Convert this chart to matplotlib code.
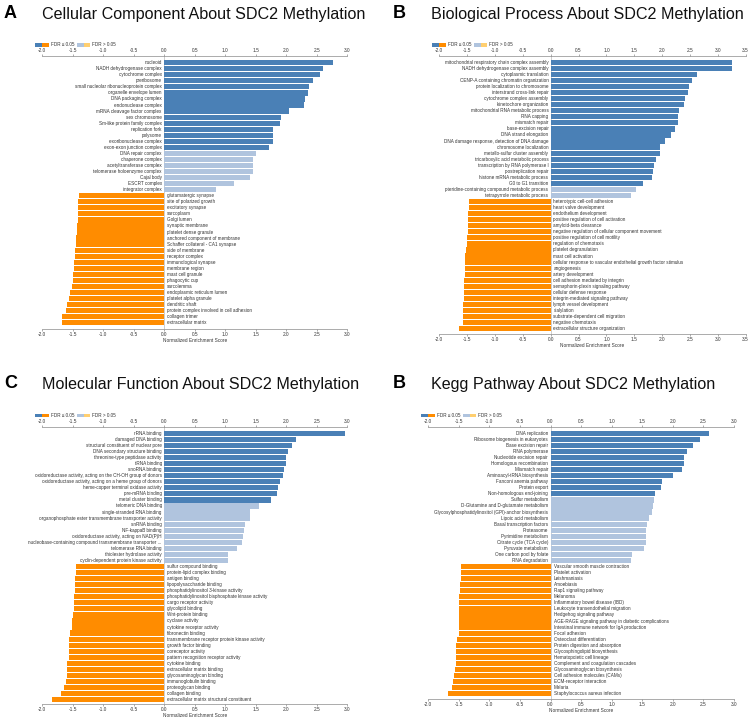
import matplotlib
matplotlib.use("Agg")
import matplotlib.pyplot as plt
from matplotlib.patches import Rectangle
import numpy as np

# ---------------- data ----------------
# Panel A: Cellular Component
a_sig_terms = ["nucleoid", "NADH dehydrogenase complex", "cytochrome complex", "preribosome",
               "small nucleolar ribonucleoprotein complex", "organelle envelope lumen",
               "DNA packaging complex", "endonuclease complex", "mRNA cleavage factor complex",
               "sex chromosome", "Sm-like protein family complex", "replication fork", "polysome",
               "exoribonuclease complex", "exon-exon junction complex"]
a_sig_nes = [2.77, 2.60, 2.56, 2.43, 2.38, 2.35, 2.31, 2.29, 2.05, 1.91, 1.89, 1.79, 1.79, 1.78, 1.71]
a_ns_terms = ["DNA repair complex", "chaperone complex", "acetyltransferase complex",
              "telomerase holoenzyme complex", "Cajal body", "ESCRT complex", "integrator complex"]
a_ns_nes = [1.51, 1.46, 1.45, 1.45, 1.40, 1.15, 0.84]
a_neg_terms = ["glutamatergic synapse", "site of polarized growth", "excitatory synapse", "sarcoplasm",
               "Golgi lumen", "synaptic membrane", "platelet dense granule",
               "anchored component of membrane", "Schaffer collateral - CA1 synapse", "side of membrane",
               "receptor complex", "immunological synapse", "membrane region", "mast cell granule",
               "phagocytic cup", "sarcolemma", "endoplasmic reticulum lumen", "platelet alpha granule",
               "dendritic shaft", "protein complex involved in cell adhesion", "collagen trimer",
               "extracellular matrix"]
a_neg_nes = [-1.40, -1.42, -1.42, -1.42, -1.42, -1.43, -1.43, -1.45, -1.45, -1.47, -1.47, -1.48,
             -1.48, -1.50, -1.50, -1.51, -1.54, -1.56, -1.60, -1.61, -1.67, -1.68]

# Panel B: Biological Process
b_sig_terms = ["mitochondrial respiratory chain complex assembly", "NADH dehydrogenase complex assembly",
               "cytoplasmic translation", "CENP-A containing chromatin organization",
               "protein localization to chromosome", "interstrand cross-link repair",
               "cytochrome complex assembly", "kinetochore organization",
               "mitochondrial RNA metabolic process", "RNA capping", "mismatch repair",
               "base-excision repair", "DNA strand elongation",
               "DNA damage response, detection of DNA damage", "chromosome localization",
               "metallo-sulfur cluster assembly", "tricarboxylic acid metabolic process",
               "transcription by RNA polymerase I", "postreplication repair",
               "histone mRNA metabolic process", "G0 to G1 transition"]
b_sig_nes = [3.26, 3.25, 2.63, 2.53, 2.49, 2.47, 2.42, 2.40, 2.31, 2.28, 2.28, 2.23, 2.16, 2.05,
             1.96, 1.96, 1.89, 1.86, 1.83, 1.81, 1.66]
b_ns_terms = ["pteridine-containing compound metabolic process", "tetrapyrrole metabolic process"]
b_ns_nes = [1.53, 1.44]
b_neg_terms = ["heterotypic cell-cell adhesion", "heart valve development", "endothelium development",
               "positive regulation of cell activation", "amyloid-beta clearance",
               "negative regulation of cellular component movement",
               "positive regulation of cell motility", "regulation of chemotaxis",
               "platelet degranulation", "mast cell activation",
               "cellular response to vascular endothelial growth factor stimulus", "angiogenesis",
               "artery development", "cell adhesion mediated by integrin",
               "semaphorin-plexin signaling pathway", "cellular defense response",
               "integrin-mediated signaling pathway", "lymph vessel development", "sialylation",
               "substrate-dependent cell migration", "negative chemotaxis",
               "extracellular structure organization"]
b_neg_nes = [-1.46, -1.47, -1.48, -1.48, -1.48, -1.48, -1.51, -1.51, -1.52, -1.53, -1.54, -1.54,
             -1.54, -1.55, -1.56, -1.56, -1.56, -1.57, -1.58, -1.58, -1.58, -1.65]

# Panel C: Molecular Function
c_sig_terms = ["rRNA binding", "damaged DNA binding", "structural constituent of nuclear pore",
               "DNA secondary structure binding", "threonine-type peptidase activity", "tRNA binding",
               "snoRNA binding", "oxidoreductase activity, acting on the CH-OH group of donors",
               "oxidoreductase activity, acting on a heme group of donors",
               "heme-copper terminal oxidase activity", "pre-mRNA binding", "metal cluster binding"]
c_sig_nes = [2.97, 2.16, 2.10, 2.02, 1.99, 1.99, 1.96, 1.94, 1.90, 1.87, 1.84, 1.75]
c_ns_terms = ["telomeric DNA binding", "single-stranded RNA binding",
              "organophosphate ester transmembrane transporter activity", "snRNA binding",
              "NF-kappaB binding", "oxidoreductase activity, acting on NAD(P)H",
              "nucleobase-containing compound transmembrane transporter ...",
              "telomerase RNA binding", "thiolester hydrolase activity",
              "cyclin-dependent protein kinase activity"]
c_ns_nes = [1.56, 1.40, 1.40, 1.33, 1.30, 1.29, 1.27, 1.19, 1.05, 1.04]
c_neg_terms = ["sulfur compound binding", "protein-lipid complex binding", "antigen binding",
               "lipopolysaccharide binding", "phosphatidylinositol 3-kinase activity",
               "phosphatidylinositol bisphosphate kinase activity", "cargo receptor activity",
               "glycolipid binding", "Wnt-protein binding", "cyclase activity",
               "cytokine receptor activity", "fibronectin binding",
               "transmembrane receptor protein kinase activity", "growth factor binding",
               "coreceptor activity", "pattern recognition receptor activity", "cytokine binding",
               "extracellular matrix binding", "glycosaminoglycan binding", "immunoglobulin binding",
               "proteoglycan binding", "collagen binding", "extracellular matrix structural constituent"]
c_neg_nes = [-1.45, -1.45, -1.46, -1.47, -1.47, -1.48, -1.48, -1.48, -1.50, -1.51, -1.52, -1.55,
             -1.56, -1.56, -1.56, -1.57, -1.59, -1.60, -1.60, -1.61, -1.65, -1.69, -1.84]

# Panel D: Kegg Pathway
d_sig_terms = ["DNA replication", "Ribosome biogenesis in eukaryotes", "Base excision repair",
               "RNA polymerase", "Nucleotide excision repair", "Homologous recombination",
               "Mismatch repair", "Aminoacyl-tRNA biosynthesis", "Fanconi anemia pathway",
               "Protein export", "Non-homologous end-joining"]
d_sig_nes = [2.59, 2.45, 2.33, 2.23, 2.19, 2.19, 2.16, 2.01, 1.83, 1.81, 1.71]
d_ns_terms = ["Sulfur metabolism", "D-Glutamine and D-glutamate metabolism",
              "Glycosylphosphatidylinositol (GPI)-anchor biosynthesis", "Lipoic acid metabolism",
              "Basal transcription factors", "Proteasome", "Pyrimidine metabolism",
              "Citrate cycle (TCA cycle)", "Pyruvate metabolism", "One carbon pool by folate",
              "RNA degradation"]
d_ns_nes = [1.69, 1.67, 1.66, 1.62, 1.58, 1.57, 1.56, 1.56, 1.53, 1.34, 1.32]
d_neg_terms = ["Vascular smooth muscle contraction", "Platelet activation", "Leishmaniasis",
               "Amoebiasis", "Rap1 signaling pathway", "Melanoma", "Inflammatory bowel disease (IBD)",
               "Leukocyte transendothelial migration", "Hedgehog signaling pathway",
               "AGE-RAGE signaling pathway in diabetic complications",
               "Intestinal immune network for IgA production", "Focal adhesion",
               "Osteoclast differentiation", "Protein digestion and absorption",
               "Glycosphingolipid biosynthesis", "Hematopoietic cell lineage",
               "Complement and coagulation cascades", "Glycosaminoglycan biosynthesis",
               "Cell adhesion molecules (CAMs)", "ECM-receptor interaction", "Malaria",
               "Staphylococcus aureus infection"]
d_neg_nes = [-1.46, -1.47, -1.47, -1.48, -1.48, -1.49, -1.49, -1.49, -1.49, -1.50, -1.50, -1.50,
             -1.53, -1.54, -1.55, -1.55, -1.55, -1.56, -1.58, -1.59, -1.62, -1.68]

# ---------------- style ----------------
W, H = 753, 719
plt.rcParams['font.family'] = ['Liberation Sans', 'DejaVu Sans']
fig = plt.figure(figsize=(W / 100, H / 100), dpi=100)

DARK_BLUE = '#4a80b6'
LIGHT_BLUE = '#b0c4de'
DARK_ORANGE = '#ff8c00'
LIGHT_ORANGE = '#ffcf70'
TXT = '#333333'
AXC = '#8a8a8a'


def fx(x):
    return x / W


def fy(y):
    return 1 - y / H


def legend(x, y):
    h = 3.2
    for (x0, x1, c) in [(0, 7, DARK_BLUE), (7, 14, DARK_ORANGE), (42, 48.5, LIGHT_BLUE),
                        (48.5, 55, LIGHT_ORANGE)]:
        fig.patches.append(Rectangle((fx(x + x0), fy(y + h / 2)), (x1 - x0) / W, h / H,
                                     transform=fig.transFigure, color=c, lw=0))
    fig.text(fx(x + 16), fy(y), "FDR \u2264 0.05", fontsize=3.3, color=TXT, va='center', ha='left')
    fig.text(fx(x + 57), fy(y), "FDR > 0.05", fontsize=3.3, color=TXT, va='center', ha='left')


def panel(letter, letter_x, title, title_x, title_y, x0, xmin, pxu, xmax, ytop, ybot,
          first_c, last_c, sig_t, sig_v, ns_t, ns_v, neg_t, neg_v):
    terms = sig_t + ns_t + neg_t
    vals = sig_v + ns_v + neg_v
    colors = [DARK_BLUE] * len(sig_t) + [LIGHT_BLUE] * len(ns_t) + [DARK_ORANGE] * len(neg_t)
    n = len(terms)
    x1 = x0 + (xmax - xmin) * pxu
    ax = fig.add_axes([fx(x0), fy(ybot), (x1 - x0) / W, (ybot - ytop) / H])
    step = (last_c - first_c) / (n - 1)
    ax.set_ylim((n - 1) + (ybot - last_c) / step, -(first_c - ytop) / step)
    ax.set_xlim(xmin, xmax)
    ys = np.arange(n)
    ax.barh(ys, vals, height=0.86, color=colors, edgecolor='none')
    ax.axvline(0, color='#aaaaaa', lw=0.4, zorder=0)
    for yy, t, v in zip(ys, terms, vals):
        if v >= 0:
            ax.text(-0.04, yy, t, ha='right', va='center', fontsize=3.3, color=TXT)
        else:
            ax.text(0.05, yy, t, ha='left', va='center', fontsize=3.3, color=TXT)
    ticks = np.arange(xmin, xmax + 0.001, 0.5)
    ax.set_xticks(ticks)
    ax.set_xticklabels([f"{t:.1f}" for t in ticks])
    ax.set_yticks([])
    ax.tick_params(axis='x', top=True, labeltop=True, bottom=True, labelbottom=True,
                   direction='out', length=1.5, width=0.5, colors=AXC, labelsize=3.4,
                   labelcolor=TXT, pad=0.4)
    for s in ['left', 'right']:
        ax.spines[s].set_visible(False)
    for s in ['top', 'bottom']:
        ax.spines[s].set_color(AXC)
        ax.spines[s].set_linewidth(0.5)
    ax.set_xlabel("Normalized Enrichment Score", fontsize=3.4, color=TXT, labelpad=0.8)
    fig.text(fx(letter_x), fy(title_y - 1), letter, fontsize=13, fontweight='bold',
             ha='left', va='center', color='black')
    fig.text(fx(title_x), fy(title_y), title, fontsize=11.6, ha='left', va='center', color='#111111')
    legend(x0 - 7, ytop - 11)


panel("A", 4, "Cellular Component About SDC2 Methylation", 42, 14,
      42.3, -2.0, 61.0, 3.0, 56, 329, 62.7, 322.7,
      a_sig_terms, a_sig_nes, a_ns_terms, a_ns_nes, a_neg_terms, a_neg_nes)
panel("B", 393, "Biological Process About SDC2 Methylation", 431, 14,
      439.3, -2.0, 55.7, 3.5, 56, 334, 62.3, 328.7,
      b_sig_terms, b_sig_nes, b_ns_terms, b_ns_nes, b_neg_terms, b_neg_nes)
panel("C", 4, "Molecular Function About SDC2 Methylation", 42, 384,
      42.3, -2.0, 61.0, 3.0, 426.7, 704, 433.3, 699.7,
      c_sig_terms, c_sig_nes, c_ns_terms, c_ns_nes, c_neg_terms, c_neg_nes)
panel("B", 393, "Kegg Pathway About SDC2 Methylation", 431, 384,
      428.3, -2.0, 61.1, 3.0, 426.7, 699, 433.3, 693.7,
      d_sig_terms, d_sig_nes, d_ns_terms, d_ns_nes, d_neg_terms, d_neg_nes)

fig.savefig("out.png", dpi=100)
